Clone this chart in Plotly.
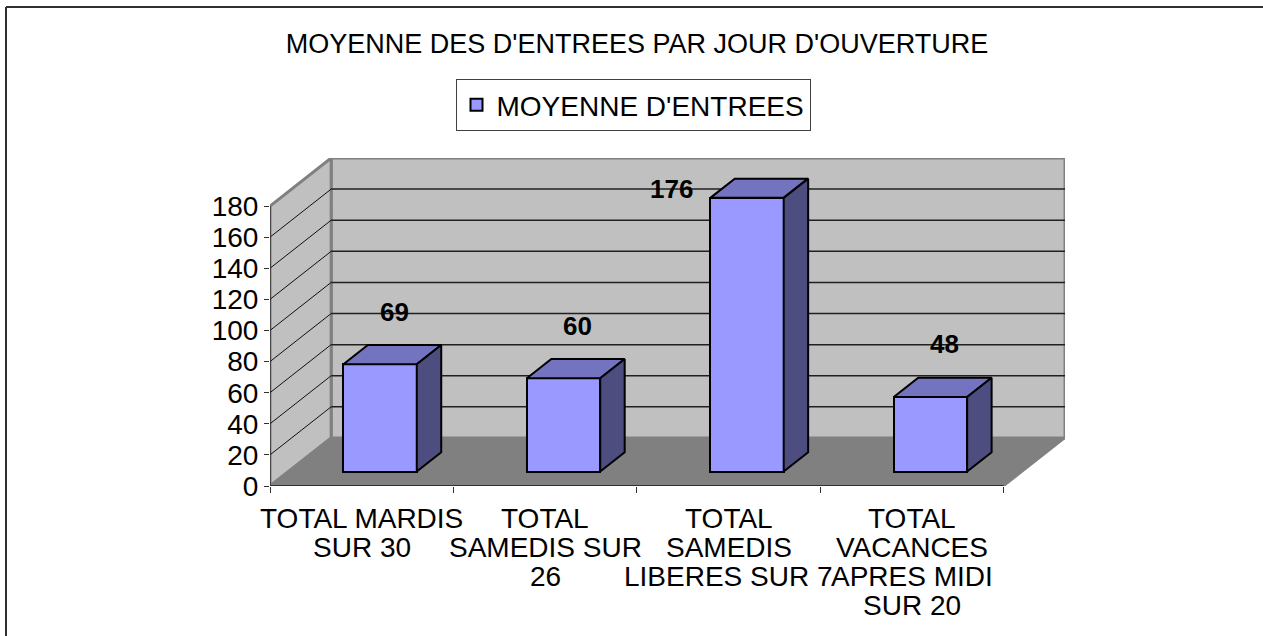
import plotly.graph_objects as go

# ---------------- data ----------------
categories = [
    ["TOTAL MARDIS", "SUR 30"],
    ["TOTAL", "SAMEDIS SUR", "26"],
    ["TOTAL", "SAMEDIS", "LIBERES SUR 7"],
    ["TOTAL", "VACANCES", "APRES MIDI", "SUR 20"],
]
values = [69, 60, 176, 48]
series_name = "MOYENNE D'ENTREES"
title_text = "MOYENNE DES D'ENTREES PAR JOUR D'OUVERTURE"
y_ticks = list(range(0, 181, 20))

# ---------------- geometry / style ----------------
FONT = "Arial, Liberation Sans, sans-serif"
FS = 28
YMAX = 180
DX = 1 / 3          # depth offset in category units
DY = 30.9           # depth offset in value units
BAR_W = 0.4
D0, D1 = 0.3, 0.7   # depth span of bars
FRONT = "#9999FF"
TOP = "#7373BF"
SIDE = "#4D4D80"
WALL = "#C0C0C0"
FLOOR = "#808080"
EDGE = "#808080"
n = len(values)

W, H = 1263, 636
ML, MR, MT, MB = 270, 198, 158, 150
PW, PH = W - ML - MR, H - MT - MB

fig = go.Figure()

# front faces (real bars)
base = D0 * DY
fig.add_trace(go.Bar(
    x=[i + 0.5 + D0 * DX for i in range(n)], y=values, base=[base] * n,
    width=BAR_W, name=series_name,
    marker=dict(color=FRONT, line=dict(color="black", width=2)),
    showlegend=True, hoverinfo="skip",
))

dd = D1 - D0
for i, v in enumerate(values):
    xl = i + 0.5 + D0 * DX - BAR_W / 2
    xr = xl + BAR_W
    top = base + v
    # top face
    fig.add_trace(go.Scatter(
        x=[xl, xr, xr + dd * DX, xl + dd * DX, xl],
        y=[top, top, top + dd * DY, top + dd * DY, top],
        mode="lines", fill="toself", fillcolor=TOP,
        line=dict(color="black", width=2), showlegend=False, hoverinfo="skip"))
    # side face
    fig.add_trace(go.Scatter(
        x=[xr, xr + dd * DX, xr + dd * DX, xr, xr],
        y=[base, base + dd * DY, top + dd * DY, top, base],
        mode="lines", fill="toself", fillcolor=SIDE,
        line=dict(color="black", width=2), showlegend=False, hoverinfo="skip"))

shapes = []
# back wall
shapes.append(dict(type="rect", xref="x", yref="y", x0=DX, x1=n + DX, y0=DY, y1=YMAX + DY,
                   fillcolor=WALL, line=dict(color=EDGE, width=3), layer="below"))
# left wall
shapes.append(dict(type="path", xref="x", yref="y",
                   path=f"M0,0 L{DX},{DY} L{DX},{YMAX + DY} L0,{YMAX} Z",
                   fillcolor=WALL, line=dict(color=EDGE, width=3), layer="below"))
# floor
shapes.append(dict(type="path", xref="x", yref="y",
                   path=f"M0,0 L{n},0 L{n + DX},{DY} L{DX},{DY} Z",
                   fillcolor=FLOOR, line=dict(color=EDGE, width=2), layer="below"))
# gridlines
for t in y_ticks[1:-1]:
    shapes.append(dict(type="line", xref="x", yref="y", x0=DX, x1=n + DX, y0=t + DY, y1=t + DY,
                       line=dict(color="#202020", width=1.5), layer="below"))
    shapes.append(dict(type="line", xref="x", yref="y", x0=0, x1=DX, y0=t, y1=t + DY,
                       line=dict(color="#101010", width=1), layer="below"))
# axis lines
shapes.append(dict(type="line", xref="x", yref="y", x0=0, x1=0, y0=0, y1=YMAX,
                   line=dict(color="#303030", width=1.5), layer="below"))
shapes.append(dict(type="line", xref="x", yref="y", x0=0, x1=n, y0=0, y1=0,
                   line=dict(color="#303030", width=2), layer="below"))
# chart border (top and left)
bx = (6 - ML) / PW
by = (H - MB - 7) / PH
shapes.append(dict(type="line", xref="paper", yref="paper", x0=bx, x1=(W + 10 - ML) / PW, y0=by, y1=by,
                   line=dict(color="#303030", width=2)))
shapes.append(dict(type="line", xref="paper", yref="paper", x0=bx, x1=bx, y0=by, y1=-(MB + 10) / PH,
                   line=dict(color="#303030", width=2)))

annotations = []
# category labels
for i, lines in enumerate(categories):
    for k, line in enumerate(lines):
        annotations.append(dict(x=i + 0.5, y=0, xref="x", yref="y", text=line, showarrow=False,
                                xanchor="center", yanchor="middle", yshift=-(32 + 29 * k),
                                font=dict(family=FONT, size=FS, color="black")))
# data labels
px_per_unit = PH / (YMAX + DY)
for i, v in enumerate(values):
    cx = i + 0.5 + (D0 + D1) / 2 * DX
    cy = base + v + dd * DY / 2
    if cy + 55 / px_per_unit > YMAX + DY:
        xl = i + 0.5 + D0 * DX - BAR_W / 2
        annotations.append(dict(x=xl, y=base + v + dd * DY / 2, xref="x", yref="y",
                                text=f"<b>{v}</b>", showarrow=False, xanchor="right",
                                yanchor="middle", xshift=-15, yshift=-1,
                                font=dict(family=FONT, size=26, color="black")))
    else:
        annotations.append(dict(x=cx, y=cy, xref="x", yref="y", text=f"<b>{v}</b>",
                                showarrow=False, xanchor="center", yanchor="middle",
                                xshift=2, yshift=43,
                                font=dict(family=FONT, size=26, color="black")))

fig.update_layout(
    width=W, height=H,
    margin=dict(l=ML, r=MR, t=MT, b=MB, pad=0),
    paper_bgcolor="white", plot_bgcolor="rgba(0,0,0,0)",
    font=dict(family=FONT, size=FS, color="black"),
    title=dict(text=title_text, x=637 / W, xanchor="center", y=1 - 44 / H, yanchor="middle",
               font=dict(family=FONT, size=27, color="black")),
    showlegend=True,
    legend=dict(orientation="h", x=(633 - ML) / PW, xanchor="center",
                y=(H - MB - 105) / PH, yanchor="middle",
                bordercolor="#404040", borderwidth=1, bgcolor="white",
                font=dict(family=FONT, size=FS, color="black"), itemwidth=30),
    xaxis=dict(range=[0, n + DX], showgrid=False, zeroline=False, showline=False,
               tickmode="array", tickvals=list(range(n + 1)), ticktext=[""] * (n + 1),
               ticks="outside", ticklen=6, tickcolor="#303030", tickwidth=1, fixedrange=True),
    yaxis=dict(range=[0, YMAX + DY], showgrid=False, zeroline=False, showline=False,
               tickmode="array", tickvals=y_ticks, ticks="outside", ticklen=5,
               tickcolor="#303030", tickwidth=1,
               tickfont=dict(family=FONT, size=FS, color="black"), fixedrange=True),
    shapes=shapes, annotations=annotations,
    bargap=0,
)

fig.write_html("out.html", config={"displayModeBar": False},
               post_script="document.body.style.margin='0';")
